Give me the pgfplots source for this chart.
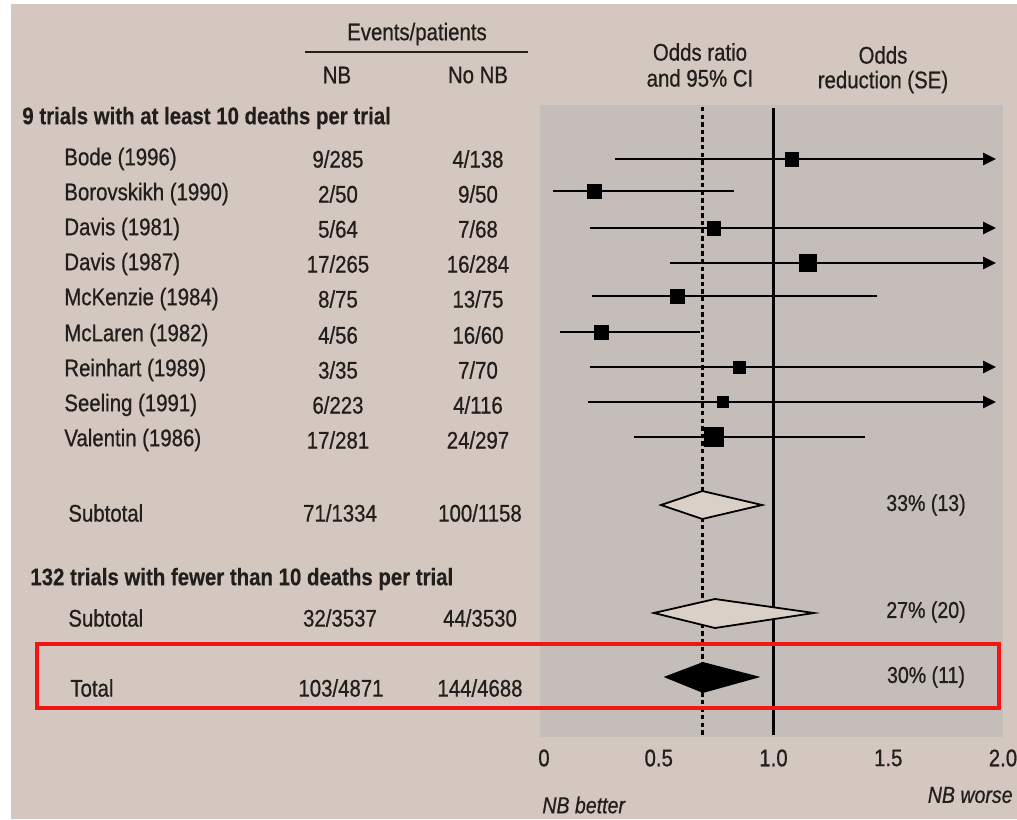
\documentclass[border=0pt]{standalone}
\usepackage{fontspec}
\setmainfont{Liberation Sans}[FakeStretch=0.85, UprightFeatures={FakeBold=0.7}, ItalicFeatures={FakeBold=0.7}, BoldFeatures={FakeBold=0.4}]
\usepackage{pgfplots}
\pgfplotsset{compat=1.18}
\usetikzlibrary{arrows.meta}
\definecolor{paper}{RGB}{212,199,191}
\definecolor{shade}{RGB}{197,189,185}
\definecolor{txt}{RGB}{34,30,28}
\definecolor{dfill}{RGB}{218,208,200}
\definecolor{redbox}{RGB}{240,22,22}
\newcommand{\X}[1]{(#1-544)/229.5}
\begin{document}
\begin{tikzpicture}[font=\fontsize{12}{14}\selectfont, every node/.style={text=txt, inner sep=0pt}]
\fill[paper] (-270pt,-41pt) rectangle (238.5pt,368.5pt);
\fill[white] (-270pt,-41pt) rectangle (-264.5pt,368.5pt);
\fill[white] (-270pt,366.5pt) rectangle (238.5pt,368.5pt);
\begin{axis}[
  scale only axis, width=231.5pt, height=316pt,
  xmin=-0.01743, xmax=2.0, ymin=105, ymax=737, y dir=reverse,
  clip=false,
  axis background/.style={fill=shade},
  axis line style={draw=none}, tick style={draw=none},
  ytick=\empty,
  xtick={0,0.5,1,1.5,2}, xticklabels={0,0.5,1.0,1.5,2.0},
  xticklabel style={anchor=center, yshift=-10.5pt, text=txt},
  /pgf/number format/assume math mode=true,
]
% reference lines
\addplot[black, line width=1.25pt] coordinates {(1,108) (1,735)};
\addplot[black, line width=1.15pt, dash pattern=on 2.2pt off 1.6pt] coordinates {(0.69,107) (0.69,735)};

% confidence intervals
\addplot[black, line width=1.3pt, -{Triangle[length=6.5pt,width=6pt]}] coordinates {(0.31,159) (1.97,159)};
\addplot[black, line width=1.3pt] coordinates {(0.04,191) (0.83,191)};
\addplot[black, line width=1.3pt, -{Triangle[length=6.5pt,width=6pt]}] coordinates {(0.20,228) (1.97,228)};
\addplot[black, line width=1.3pt, -{Triangle[length=6.5pt,width=6pt]}] coordinates {(0.55,263) (1.97,263)};
\addplot[black, line width=1.3pt] coordinates {(0.21,296) (1.45,296)};
\addplot[black, line width=1.3pt] coordinates {(0.07,332) (0.68,332)};
\addplot[black, line width=1.3pt, -{Triangle[length=6.5pt,width=6pt]}] coordinates {(0.20,367) (1.97,367)};
\addplot[black, line width=1.3pt, -{Triangle[length=6.5pt,width=6pt]}] coordinates {(0.19,402) (1.97,402)};
\addplot[black, line width=1.3pt] coordinates {(0.39,437) (1.40,437)};

% point estimates
\addplot[only marks, mark=square*, mark size=3.4pt, mark options={fill=black, draw=black, line width=0.2pt}] coordinates {(1.08,159)};
\addplot[only marks, mark=square*, mark size=3.6pt, mark options={fill=black, draw=black, line width=0.2pt}] coordinates {(0.22,191)};
\addplot[only marks, mark=square*, mark size=3.4pt, mark options={fill=black, draw=black, line width=0.2pt}] coordinates {(0.74,228)};
\addplot[only marks, mark=square*, mark size=4.2pt, mark options={fill=black, draw=black, line width=0.2pt}] coordinates {(1.15,263)};
\addplot[only marks, mark=square*, mark size=3.4pt, mark options={fill=black, draw=black, line width=0.2pt}] coordinates {(0.58,296)};
\addplot[only marks, mark=square*, mark size=3.4pt, mark options={fill=black, draw=black, line width=0.2pt}] coordinates {(0.25,332)};
\addplot[only marks, mark=square*, mark size=2.9pt, mark options={fill=black, draw=black, line width=0.2pt}] coordinates {(0.85,367)};
\addplot[only marks, mark=square*, mark size=2.8pt, mark options={fill=black, draw=black, line width=0.2pt}] coordinates {(0.78,402)};
\addplot[only marks, mark=square*, mark size=4.7pt, mark options={fill=black, draw=black, line width=0.2pt}] coordinates {(0.74,437)};

% pooled diamonds
\addplot[draw=black, fill=dfill, line width=0.9pt] coordinates {(0.51,505) (0.69,491) (0.95,505) (0.69,519)} -- cycle;
\addplot[draw=black, fill=dfill, line width=0.9pt] coordinates {(0.479,613) (0.745,599) (1.176,613) (0.745,628)} -- cycle;
\addplot[draw=black, fill=black, line width=0.9pt] coordinates {(0.532,677) (0.693,663) (0.928,677) (0.693,692)} -- cycle;

% column headers
\node[anchor=center] at (axis cs:{\X{417}},34) {Events/patients};
\draw[txt, line width=1.3pt] (axis cs:{\X{305}},52) -- (axis cs:{\X{528}},52);
\node[anchor=center] at (axis cs:{\X{337}},75) {NB};
\node[anchor=center] at (axis cs:{\X{478}},75) {No NB};
\node[anchor=center] at (axis cs:{\X{700}},52) {Odds ratio};
\node[anchor=center] at (axis cs:{\X{700}},78) {and 95\% CI};
\node[anchor=center] at (axis cs:{\X{883}},55) {Odds};
\node[anchor=center] at (axis cs:{\X{883}},82) {reduction (SE)};

% group 1
\node[anchor=west] at (axis cs:{\X{22}},118) {\bfseries 9 trials with at least 10 deaths per trial};
\node[anchor=west] at (axis cs:{\X{64}},159) {Bode (1996)};
\node[anchor=center] at (axis cs:{\X{338}},159) {9/285};
\node[anchor=center] at (axis cs:{\X{478}},159) {4/138};
\node[anchor=west] at (axis cs:{\X{64}},194) {Borovskikh (1990)};
\node[anchor=center] at (axis cs:{\X{338}},194) {2/50};
\node[anchor=center] at (axis cs:{\X{478}},194) {9/50};
\node[anchor=west] at (axis cs:{\X{64}},229) {Davis (1981)};
\node[anchor=center] at (axis cs:{\X{338}},229) {5/64};
\node[anchor=center] at (axis cs:{\X{478}},229) {7/68};
\node[anchor=west] at (axis cs:{\X{64}},264) {Davis (1987)};
\node[anchor=center] at (axis cs:{\X{338}},264) {17/265};
\node[anchor=center] at (axis cs:{\X{478}},264) {16/284};
\node[anchor=west] at (axis cs:{\X{64}},299) {McKenzie (1984)};
\node[anchor=center] at (axis cs:{\X{338}},299) {8/75};
\node[anchor=center] at (axis cs:{\X{478}},299) {13/75};
\node[anchor=west] at (axis cs:{\X{64}},335) {McLaren (1982)};
\node[anchor=center] at (axis cs:{\X{338}},335) {4/56};
\node[anchor=center] at (axis cs:{\X{478}},335) {16/60};
\node[anchor=west] at (axis cs:{\X{64}},370) {Reinhart (1989)};
\node[anchor=center] at (axis cs:{\X{338}},370) {3/35};
\node[anchor=center] at (axis cs:{\X{478}},370) {7/70};
\node[anchor=west] at (axis cs:{\X{64}},405) {Seeling (1991)};
\node[anchor=center] at (axis cs:{\X{338}},405) {6/223};
\node[anchor=center] at (axis cs:{\X{478}},405) {4/116};
\node[anchor=west] at (axis cs:{\X{64}},440) {Valentin (1986)};
\node[anchor=center] at (axis cs:{\X{338}},440) {17/281};
\node[anchor=center] at (axis cs:{\X{478}},440) {24/297};
\node[anchor=west] at (axis cs:{\X{68}},513) {Subtotal};
\node[anchor=center] at (axis cs:{\X{340}},513) {71/1334};
\node[anchor=center] at (axis cs:{\X{480}},513) {100/1158};
\node[anchor=center, font=\fontsize{11.5}{13}\selectfont] at (axis cs:{\X{926}},505) {33\% (13)};

% group 2
\node[anchor=west] at (axis cs:{\X{30}},579) {\bfseries 132 trials with fewer than 10 deaths per trial};
\node[anchor=west] at (axis cs:{\X{68}},618) {Subtotal};
\node[anchor=center] at (axis cs:{\X{340}},618) {32/3537};
\node[anchor=center] at (axis cs:{\X{480}},618) {44/3530};
\node[anchor=center, font=\fontsize{11.5}{13}\selectfont] at (axis cs:{\X{926}},612) {27\% (20)};

% total
\node[anchor=west] at (axis cs:{\X{70}},688) {Total};
\node[anchor=center] at (axis cs:{\X{341}},688) {103/4871};
\node[anchor=center] at (axis cs:{\X{480}},688) {144/4688};
\node[anchor=center, font=\fontsize{11.5}{13}\selectfont] at (axis cs:{\X{926}},677) {30\% (11)};

% direction labels
\node[anchor=west, font=\itshape\fontsize{11.5}{13}\selectfont] at (axis cs:{\X{542}},805) {NB better};
\node[anchor=east, font=\itshape\fontsize{11.5}{13}\selectfont] at (axis cs:{\X{1013}},795) {NB worse};

% highlight box
\draw[redbox, line width=1.8pt] (axis cs:{\X{37}},644) rectangle (axis cs:{\X{999}},708);
\end{axis}
\pgfresetboundingbox
\path (-270pt,-41pt) rectangle (238.5pt,368.5pt);
\end{tikzpicture}
\end{document}
